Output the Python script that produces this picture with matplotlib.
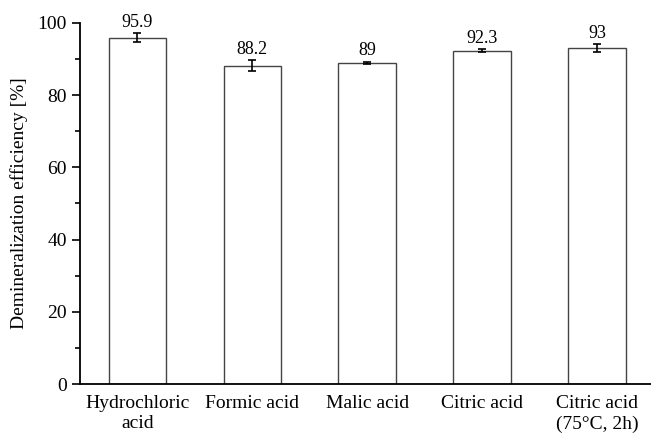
import matplotlib
matplotlib.use("Agg")
import matplotlib.pyplot as plt
from matplotlib.ticker import MultipleLocator

categories = ["Hydrochloric\nacid", "Formic acid", "Malic acid", "Citric acid", "Citric acid\n(75°C, 2h)"]
efficiency = [95.9, 88.2, 89.0, 92.3, 93.0]
errors = [1.2, 1.4, 0.3, 0.4, 1.05]
value_labels = ["95.9", "88.2", "89", "92.3", "93"]

plt.rcParams["font.family"] = ["Liberation Serif", "DejaVu Serif"]

fig = plt.figure(figsize=(6.51, 4.34), dpi=100)
ax = fig.add_axes([0.1229, 0.1152, 0.877, 0.832])

x = list(range(len(categories)))
ax.bar(x, efficiency, width=0.5, color="white", edgecolor="#444444", linewidth=1.0,
       yerr=errors, error_kw=dict(ecolor="black", elinewidth=1.2, capsize=3, capthick=1.2))

for xi, v, e, lab in zip(x, efficiency, errors, value_labels):
    ax.text(xi, v + e + 0.6, lab, ha="center", va="bottom", fontsize=13)

ax.set_xlim(-0.5, 4.47)
ax.set_ylim(0, 100)
ax.set_xticks(x)
ax.set_xticklabels(categories, fontsize=14, linespacing=1.25)
ax.tick_params(axis="x", length=0, pad=8)
ax.yaxis.set_major_locator(MultipleLocator(20))
ax.yaxis.set_minor_locator(MultipleLocator(10))
ax.tick_params(axis="y", which="major", length=6, width=1.2, labelsize=14, direction="out")
ax.tick_params(axis="y", which="minor", length=3.5, width=1.2, direction="out")
ax.set_ylabel("Demineralization efficiency [%]", fontsize=14, labelpad=7)

for side in ["top", "right"]:
    ax.spines[side].set_visible(False)
for side in ["left", "bottom"]:
    ax.spines[side].set_linewidth(1.3)

fig.savefig("out.png", dpi=100)
